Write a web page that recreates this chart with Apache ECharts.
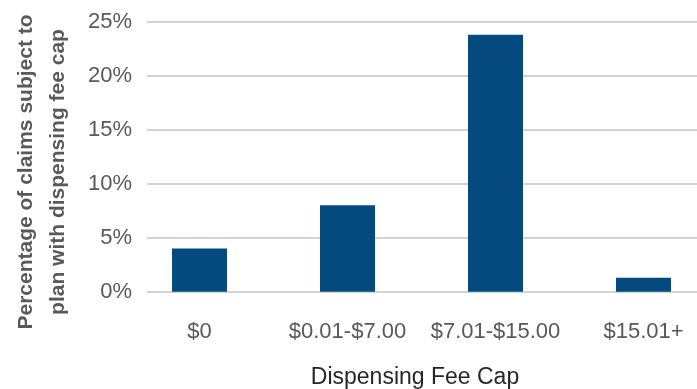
<!DOCTYPE html>
<html>
<head>
<meta charset="utf-8">
<script src="https://cdn.jsdelivr.net/npm/echarts@6/dist/echarts.min.js"></script>
<style>
  html, body { margin: 0; padding: 0; background: #ffffff; }
  #chart { width: 697px; height: 389px; }
</style>
</head>
<body>
<div id="chart"></div>
<script>
// Share of claims by plan dispensing fee cap
const categories = ['$0', '$0.01-$7.00', '$7.01-$15.00', '$15.01+'];
const shareValues = [4.0, 8.0, 23.8, 1.3];
const yTicks = [0, 5, 10, 15, 20, 25];

const yTitleLines = ['Percentage of claims subject to', 'plan with dispensing fee cap'];
const xTitle = 'Dispensing Fee Cap';

const FONT = '"Liberation Sans", Arial, sans-serif';
const yMin = yTicks[0];
const yMax = yTicks[yTicks.length - 1];
const yStep = yTicks[1] - yTicks[0];

const chart = echarts.init(document.getElementById('chart'), null, { renderer: 'canvas' });

chart.setOption({
  backgroundColor: '#ffffff',
  animation: false,
  grid: [
    // gridlines and percentage axis
    { left: 147, right: 0, top: 21.7, height: 270, outerBoundsMode: 'none', containLabel: false },
    // category bands for the bars (wider than the visible plot, runs off the right edge)
    { left: 125.5, width: 592, top: 21.7, height: 270, outerBoundsMode: 'none', containLabel: false }
  ],
  xAxis: [
    { type: 'category', gridIndex: 0, data: categories, show: false },
    {
      type: 'category', gridIndex: 1, data: categories,
      axisLine: { show: false },
      axisTick: { show: false },
      axisLabel: {
        color: '#595959', fontFamily: FONT, fontSize: 22,
        lineHeight: 22, margin: 29, interval: 0
      }
    }
  ],
  yAxis: [
    {
      type: 'value', gridIndex: 0, min: yMin, max: yMax, interval: yStep,
      axisLine: { show: false },
      axisTick: { show: false },
      axisLabel: {
        formatter: '{value}%', color: '#595959',
        fontFamily: FONT, fontSize: 22, margin: 15
      },
      splitLine: { lineStyle: { color: '#c4c4c4', width: 1.5 } }
    },
    {
      type: 'value', gridIndex: 1, min: yMin, max: yMax, interval: yStep,
      show: false, splitLine: { show: false }
    }
  ],
  series: [
    {
      type: 'bar',
      xAxisIndex: 1, yAxisIndex: 1,
      data: shareValues,
      barWidth: 55,
      itemStyle: { color: '#044a7f' }
    }
  ],
  graphic: [
    {
      type: 'text',
      x: 42, y: 172,
      rotation: Math.PI / 2,
      style: {
        text: yTitleLines.join('\n'),
        fill: '#595959',
        font: 'bold 21px ' + FONT,
        lineHeight: 32,
        align: 'center',
        verticalAlign: 'middle'
      }
    },
    {
      type: 'text',
      x: 415, y: 378,
      style: {
        text: xTitle,
        fill: '#262626',
        font: '23px ' + FONT,
        align: 'center',
        verticalAlign: 'middle'
      }
    }
  ]
});
</script>
</body>
</html>
